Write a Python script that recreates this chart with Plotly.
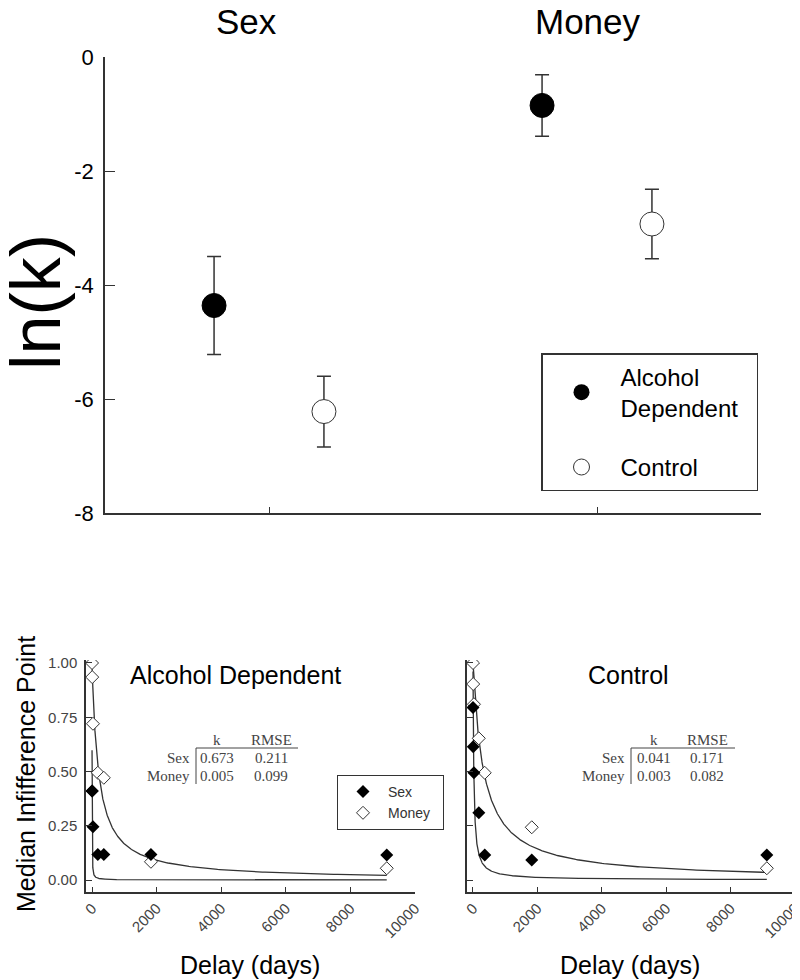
import numpy as np
import plotly.graph_objects as go

W, H = 800, 980
PAGE_PAD = 8  # the page body margin shifts the figure by 8px


def fx(px):
    return (px - PAGE_PAD) / W


def fy(py):
    return 1 - (py - PAGE_PAD) / H


# ---- top panel: ln(k) by commodity ----
conditions = ['Sex', 'Money']
ad_lnk = [-4.36, -0.85]
ad_err = [0.86, 0.54]
ctrl_lnk = [-6.22, -2.93]
ctrl_err = [0.62, 0.61]
lnk_ticks = [-8, -6, -4, -2, 0]

# ---- bottom panels: median indifference points ----
delays = [1, 7, 30, 180, 365, 1825, 9125]
ad_sex = [0.41, 0.41, 0.245, 0.118, 0.118, 0.118, 0.115]
ad_money = [1.00, 0.935, 0.72, 0.494, 0.471, 0.084, 0.054]
ctrl_sex = [0.795, 0.614, 0.494, 0.31, 0.115, 0.092, 0.115]
ctrl_money = [1.00, 0.903, 0.81, 0.653, 0.494, 0.243, 0.054]
delay_ticks = [0, 2000, 4000, 6000, 8000, 10000]
ip_ticks = [0, 0.25, 0.5, 0.75, 1.0]

# hyperbolic fits V = 1/(1+kD), k from the tables
ad_k = {'Sex': 0.673, 'Money': 0.005}
ad_rmse = {'Sex': 0.211, 'Money': 0.099}
ctrl_k = {'Sex': 0.041, 'Money': 0.003}
ctrl_rmse = {'Sex': 0.171, 'Money': 0.082}

DARK = '#333333'
NB = '\u00a0'
fig = go.Figure()

# top panel points, grouped around category positions 1 and 3
cat_pos = np.arange(len(conditions)) * 2 + 1
fig.add_trace(go.Scatter(
    x=cat_pos - 0.335, y=ad_lnk, mode='markers', showlegend=False,
    marker=dict(size=24, color='black', line=dict(color='black', width=1)),
    error_y=dict(type='data', array=ad_err, color=DARK, thickness=1.5, width=7),
    xaxis='x', yaxis='y'))
fig.add_trace(go.Scatter(
    x=cat_pos + 0.335, y=ctrl_lnk, mode='markers', showlegend=False,
    marker=dict(size=24, color='white', line=dict(color=DARK, width=1)),
    error_y=dict(type='data', array=ctrl_err, color=DARK, thickness=1.5, width=7),
    xaxis='x', yaxis='y'))
# legend-only entries
fig.add_trace(go.Scatter(
    x=[None], y=[None], mode='markers', name='Alcohol<br>Dependent' + NB * 2,
    marker=dict(size=24, color='black'), legend='legend', legendgroup='a'))
fig.add_trace(go.Scatter(
    x=[None], y=[None], mode='markers', name='Control',
    marker=dict(size=24, color='white', line=dict(color=DARK, width=1)),
    legend='legend', legendgroup='b'))

# bottom panels
d_fit = np.geomspace(delays[0], delays[-1], 600)
panels = [('x2', 'y2', ad_sex, ad_money, ad_k),
          ('x3', 'y3', ctrl_sex, ctrl_money, ctrl_k)]
for xa, ya, sex, money, kk in panels:
    for name in ['Sex', 'Money']:
        fig.add_trace(go.Scatter(
            x=d_fit, y=1 / (1 + kk[name] * d_fit), mode='lines',
            line=dict(color=DARK, width=1.3), showlegend=False,
            xaxis=xa, yaxis=ya, hoverinfo='skip'))
    fig.add_trace(go.Scatter(
        x=delays, y=money, mode='markers', name='Money', showlegend=False,
        marker=dict(symbol='diamond', size=10, color='white',
                    line=dict(color=DARK, width=1)),
        xaxis=xa, yaxis=ya))
    fig.add_trace(go.Scatter(
        x=delays, y=sex, mode='markers', name='Sex', showlegend=False,
        marker=dict(symbol='diamond', size=10, color='black'),
        xaxis=xa, yaxis=ya))

fig.add_trace(go.Scatter(
    x=[None], y=[None], mode='markers', name='Sex', legend='legend2',
    marker=dict(symbol='diamond', size=10, color='black')))
fig.add_trace(go.Scatter(
    x=[None], y=[None], mode='markers', name='Money' + NB * 2, legend='legend2',
    marker=dict(symbol='diamond', size=10, color='white',
                line=dict(color=DARK, width=1))))

axis_common = dict(showline=True, linecolor=DARK, linewidth=1.5, showgrid=False,
                   zeroline=False, ticks='inside', tickcolor=DARK, automargin=False)
delay_axis = dict(range=[-186, 10000], tickvals=delay_ticks,
                  ticktext=[str(t) for t in delay_ticks], ticklen=5, tickangle=-45,
                  tickfont=dict(size=15, color='#444'), **axis_common)
ip_axis = dict(range=[-0.0553, 1.0138], tickvals=ip_ticks,
               ticktext=[f'{t:.2f}' for t in ip_ticks], ticklen=6,
               tickfont=dict(size=15, color='#444'), ticklabelstandoff=4, **axis_common)

fig.update_layout(
    width=W, height=H,
    margin=dict(l=0, r=0, t=0, b=0, autoexpand=False),
    paper_bgcolor='white', plot_bgcolor='white',
    font=dict(family='Arial, Liberation Sans, sans-serif', color='black'),
    xaxis=dict(domain=[fx(105), fx(761)], range=[0, 4], tickvals=list(cat_pos),
               ticktext=['', ''], ticklen=6, anchor='y', **axis_common),
    yaxis=dict(domain=[fy(513), fy(57)], range=[-8, 0], tickvals=lnk_ticks,
               ticktext=[str(t) for t in lnk_ticks],
               ticklen=10, tickfont=dict(size=22), ticklabelstandoff=5,
               anchor='x', **axis_common),
    xaxis2=dict(domain=[fx(86), fx(415)], anchor='y2', **delay_axis),
    yaxis2=dict(domain=[fy(892), fy(660)], anchor='x2', **ip_axis),
    xaxis3=dict(domain=[fx(467), fx(795)], anchor='y3', **delay_axis),
    yaxis3=dict(domain=[fy(892), fy(660)], anchor='x3', showticklabels=False, **ip_axis),
    legend=dict(x=fx(541), y=fy(353), xanchor='left', yanchor='top',
                bordercolor=DARK, borderwidth=1.5, bgcolor='white',
                font=dict(size=24), itemwidth=68, tracegroupgap=25,
                itemsizing='trace'),
    legend2=dict(x=fx(337), y=fy(775), xanchor='left', yanchor='top',
                 bordercolor=DARK, borderwidth=1, bgcolor='white',
                 font=dict(size=14, color=DARK), itemwidth=40),
)

ann = [
    dict(text='Sex', x=fx(246), y=fy(22), size=35),
    dict(text='Money', x=fx(588), y=fy(22), size=35),
    dict(text='ln(k)', x=fx(36), y=fy(302), size=70, angle=-90),
    dict(text='Median Infifference Point', x=fx(26), y=fy(774), size=25, angle=-90),
    dict(text='Alcohol Dependent', x=fx(235), y=fy(675), size=25),
    dict(text='Control', x=fx(628), y=fy(675), size=25),
    dict(text='Delay (days)', x=fx(250), y=fy(965), size=25),
    dict(text='Delay (days)', x=fx(630), y=fy(965), size=25),
]
for a in ann:
    fig.add_annotation(text=a['text'], x=a['x'], y=a['y'], xref='paper', yref='paper',
                       xanchor='center', yanchor='middle', showarrow=False,
                       textangle=a.get('angle', 0),
                       font=dict(size=a['size'], color='black'))

# fit tables
SERIF = 'Liberation Serif, Times New Roman, serif'
tables = [(ad_k, ad_rmse, 196, 217, 271, 298), (ctrl_k, ctrl_rmse, 631, 654, 707, 735)]
for kk, rr, xv, xk, xr, xend in tables:
    cells = [('k', xk, 740, 'center'), ('RMSE', xr, 740, 'center')]
    for i, name in enumerate(['Sex', 'Money']):
        row_y = 758 + i * 18
        cells.append((name, xv - 4, row_y, 'right'))
        cells.append((f'{kk[name]:.3f}', xk, row_y, 'center'))
        cells.append((f'{rr[name]:.3f}', xr, row_y, 'center'))
    for text, x, y, anchor in cells:
        fig.add_annotation(text=text, x=fx(x), y=fy(y), xref='paper', yref='paper',
                           xanchor=anchor, yanchor='middle', showarrow=False,
                           font=dict(family=SERIF, size=15, color='#444'))
    fig.add_shape(type='line', xref='paper', yref='paper', x0=fx(xv), x1=fx(xend),
                  y0=fy(748), y1=fy(748), line=dict(color='#444', width=1))
    fig.add_shape(type='line', xref='paper', yref='paper', x0=fx(xv), x1=fx(xv),
                  y0=fy(748), y1=fy(784), line=dict(color='#444', width=1))

fig.write_html('out.html')
